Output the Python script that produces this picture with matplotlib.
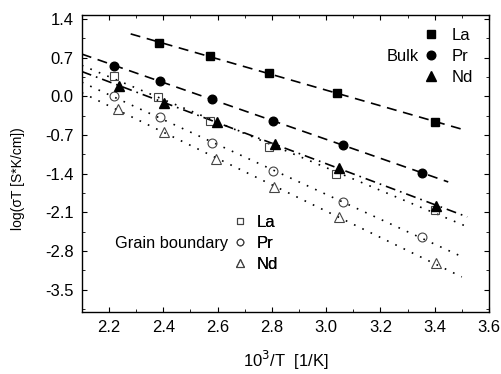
"""Arrhenius plot of bulk and grain-boundary conductivity for La, Pr, Nd."""

import matplotlib

matplotlib.use("Agg")
import matplotlib.pyplot as plt
import numpy as np
from matplotlib.lines import Line2D
from matplotlib.ticker import MultipleLocator

ELEMENTS = ("La", "Pr", "Nd")

# bulk conductivity, x = 1000/T [1/K], y = log(sigma*T)
BULK_X = {
    "La": [2.383, 2.574, 2.790, 3.039, 3.402],
    "Pr": [2.219, 2.387, 2.580, 2.805, 3.061, 3.352],
    "Nd": [2.237, 2.402, 2.598, 2.810, 3.049, 3.405],
}
BULK_Y = {
    "La": [0.97, 0.72, 0.42, 0.05, -0.46],
    "Pr": [0.55, 0.27, -0.05, -0.44, -0.88, -1.39],
    "Nd": [0.19, -0.12, -0.47, -0.86, -1.30, -1.98],
}

# grain-boundary conductivity
GB_X = {
    "La": [2.219, 2.382, 2.573, 2.790, 3.036, 3.402],
    "Pr": [2.219, 2.387, 2.580, 2.805, 3.061, 3.352],
    "Nd": [2.235, 2.402, 2.595, 2.807, 3.046, 3.405],
}
GB_Y = {
    "La": [0.37, -0.02, -0.44, -0.91, -1.40, -2.06],
    "Pr": [0.00, -0.38, -0.85, -1.36, -1.91, -2.55],
    "Nd": [-0.23, -0.65, -1.14, -1.64, -2.19, -3.02],
}

# x extent of the linear fits
BULK_FIT = {"La": (2.28, 3.51), "Pr": (2.1, 3.45), "Nd": (2.1, 3.52)}
GB_FIT = {"La": (2.1, 3.51), "Pr": (2.1, 3.50), "Nd": (2.1, 3.50)}

MARKERS = {"La": "s", "Pr": "o", "Nd": "^"}
SIZES = {"La": 5.6, "Pr": 6.4, "Nd": 6.8}
BULK_STYLE = {"La": (0, (6, 4)), "Pr": (0, (6, 4)), "Nd": (0, (6, 3, 1, 3))}
GB_STYLE = (0, (1, 4.5))
GB_EDGE = "#444444"

plt.rcParams.update(
    {
        "font.family": ["Liberation Sans", "DejaVu Sans"],
        "font.size": 12,
        "axes.unicode_minus": False,
        "axes.linewidth": 1.0,
        "xtick.direction": "in",
        "ytick.direction": "in",
        "xtick.top": True,
        "ytick.right": True,
        "xtick.major.size": 3.5,
        "ytick.major.size": 3.5,
        "xtick.minor.size": 2.5,
        "ytick.minor.size": 2.5,
    }
)


def fit_line(ax, xs, ys, span, style):
    slope, intercept = np.polyfit(xs, ys, 1)
    x = np.array(span)
    ax.plot(x, slope * x + intercept, color="black", linestyle=style, linewidth=1.2)


def side_legend(ax, handles, anchor, textpad, title):
    leg = ax.legend(handles, ELEMENTS, loc="center left", bbox_to_anchor=anchor,
                    frameon=False, fontsize=12, handletextpad=textpad,
                    labelspacing=0.36, handlelength=1.0, borderpad=0.3,
                    borderaxespad=0)
    ax.add_artist(leg)
    ax.annotate(title, xy=anchor, xycoords="axes fraction", xytext=(1, 0),
                textcoords="offset points", ha="right", va="center", fontsize=11.8)


fig = plt.figure(figsize=(5.02, 3.74), dpi=100)
ax = fig.add_axes([0.163, 0.166, 0.811, 0.794])

for el in ELEMENTS:
    fit_line(ax, BULK_X[el], BULK_Y[el], BULK_FIT[el], BULK_STYLE[el])
    fit_line(ax, GB_X[el], GB_Y[el], GB_FIT[el], GB_STYLE)

for el in ELEMENTS:
    ax.plot(GB_X[el], GB_Y[el], MARKERS[el], markersize=SIZES[el],
            markerfacecolor="none", markeredgecolor=GB_EDGE, markeredgewidth=0.8)
    ax.plot(BULK_X[el], BULK_Y[el], MARKERS[el], markersize=SIZES[el] - 0.2,
            color="black")

ax.set_xlim(2.1, 3.6)
ax.set_ylim(-3.9, 1.47)
ax.xaxis.set_major_locator(MultipleLocator(0.2))
ax.xaxis.set_minor_locator(MultipleLocator(0.1))
ax.yaxis.set_major_locator(MultipleLocator(0.7))
ax.yaxis.set_minor_locator(MultipleLocator(0.35))
ax.tick_params(labelsize=12, pad=6)
ax.set_xlabel(r"10$^3$/T  [1/K]", fontsize=12, labelpad=10)
ax.set_ylabel("log(σT [S*K/cm])", fontsize=10)
ax.yaxis.set_label_coords(-0.14, 0.45)

bulk_handles = [
    Line2D([], [], linestyle="none", marker=MARKERS[el], markersize=SIZES[el] - 0.2,
           color="black")
    for el in ELEMENTS
]
gb_handles = [
    Line2D([], [], linestyle="none", marker=MARKERS[el], markersize=SIZES[el] - 1.6,
           markerfacecolor="none", markeredgecolor=GB_EDGE, markeredgewidth=0.8)
    for el in ELEMENTS
]
side_legend(ax, bulk_handles, (0.825, 0.859), 0.75, "Bulk")
side_legend(ax, gb_handles, (0.356, 0.232), 0.5, "Grain boundary")

fig.savefig("out.png", dpi=100)
